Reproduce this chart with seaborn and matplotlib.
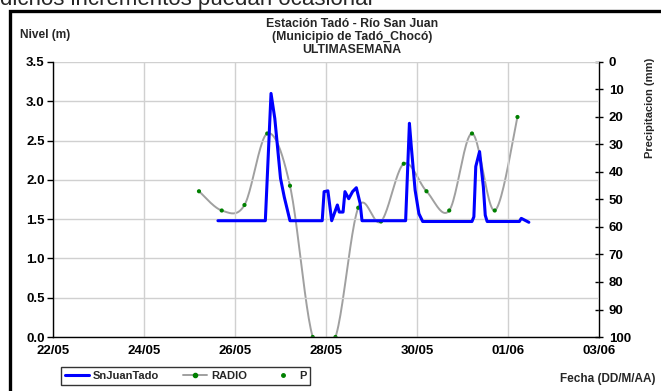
import numpy as np
import pandas as pd
import matplotlib
matplotlib.use("Agg")
import matplotlib.pyplot as plt
import matplotlib.dates as mdates
from matplotlib.lines import Line2D
from matplotlib.patches import Rectangle
import seaborn as sns

sns.set_style("white")
plt.rcParams['font.family'] = ['Liberation Sans', 'DejaVu Sans']
plt.rcParams['font.weight'] = 'bold'

# nivel del rio (m), serie SnJuanTado
nivel_fecha = ["2013-05-25 15:00", "2013-05-26 16:00", "2013-05-26 19:00", "2013-05-26 21:00",
               "2013-05-27 00:00", "2013-05-27 02:00", "2013-05-27 05:00", "2013-05-27 22:00",
               "2013-05-27 23:00", "2013-05-28 01:00", "2013-05-28 03:00", "2013-05-28 06:00",
               "2013-05-28 07:00", "2013-05-28 09:00", "2013-05-28 10:00", "2013-05-28 12:00",
               "2013-05-28 14:00", "2013-05-28 16:00", "2013-05-28 18:00", "2013-05-28 19:00",
               "2013-05-29 18:00", "2013-05-29 20:00", "2013-05-29 21:00", "2013-05-29 23:00",
               "2013-05-30 01:00", "2013-05-30 03:00", "2013-05-31 05:00", "2013-05-31 06:00",
               "2013-05-31 07:00", "2013-05-31 09:00", "2013-05-31 11:00", "2013-05-31 12:00",
               "2013-05-31 13:00", "2013-06-01 06:00", "2013-06-01 07:00", "2013-06-01 11:00"]
nivel_m = [1.48, 1.48, 3.10, 2.78, 2.02, 1.78, 1.48, 1.48,
           1.85, 1.86, 1.48, 1.68, 1.59, 1.59, 1.85, 1.76,
           1.85, 1.90, 1.70, 1.48, 1.48, 2.72, 2.42, 1.87,
           1.57, 1.47, 1.47, 1.53, 2.17, 2.36, 1.91, 1.55,
           1.47, 1.47, 1.51, 1.46]

# precipitacion (mm), serie RADIO / P
precip_fecha = ["2013-05-25 05:00", "2013-05-25 17:00", "2013-05-26 05:00", "2013-05-26 17:00",
                "2013-05-27 05:00", "2013-05-27 17:00", "2013-05-28 05:00", "2013-05-28 17:00",
                "2013-05-29 05:00", "2013-05-29 17:00", "2013-05-30 05:00", "2013-05-30 17:00",
                "2013-05-31 05:00", "2013-05-31 17:00", "2013-06-01 05:00"]
precip_mm = [47, 54, 52, 26, 45, 100, 100, 53, 58, 37, 47, 54, 26, 54, 20]

x_ticks = ["2013-05-22", "2013-05-24", "2013-05-26", "2013-05-28", "2013-05-30", "2013-06-01", "2013-06-03"]
nivel_ticks = [0.0, 0.5, 1.0, 1.5, 2.0, 2.5, 3.0, 3.5]
precip_ticks = [0, 10, 20, 30, 40, 50, 60, 70, 80, 90, 100]


def smooth_line(x, y, n=24):
    """Excel-like smoothed line (Catmull-Rom) through the given points"""
    x = np.asarray(x, float)
    y = np.asarray(y, float)
    px = np.concatenate(([x[0]], x, [x[-1]]))
    py = np.concatenate(([y[0]], y, [y[-1]]))
    t = np.linspace(0, 1, n)[:, None]
    xs, ys = [], []
    for i in range(1, len(px) - 2):
        for p, out in ((px, xs), (py, ys)):
            p0, p1, p2, p3 = p[i - 1], p[i], p[i + 1], p[i + 2]
            c = 0.5 * ((2 * p1) + (-p0 + p2) * t + (2 * p0 - 5 * p1 + 4 * p2 - p3) * t ** 2
                       + (-p0 + 3 * p1 - 3 * p2 + p3) * t ** 3)
            out.append(c.ravel())
    return np.concatenate(xs), np.concatenate(ys)


df_nivel = pd.DataFrame({"fecha": pd.to_datetime(nivel_fecha), "nivel": nivel_m})
df_precip = pd.DataFrame({"fecha": pd.to_datetime(precip_fecha), "precip": precip_mm})

fig = plt.figure(figsize=(6.61, 3.91), dpi=100)
ax = fig.add_axes([53 / 661, 1 - 337 / 391, 546 / 661, 275 / 391])
ax2 = ax.twinx()

# precipitation on the inverted right axis
xnum = mdates.date2num(df_precip["fecha"])
sx, sy = smooth_line(xnum, df_precip["precip"])
ax2.plot(mdates.num2date(sx), sy, color='#a0a0a0', lw=1.4, zorder=2)
sns.scatterplot(data=df_precip, x="fecha", y="precip", ax=ax2, color='#008000',
                s=9, edgecolor='none', zorder=3, legend=False)
ax2.set_ylim(100, 0)
ax2.set_yticks(precip_ticks)
ax2.set_ylabel("")

# level
sns.lineplot(data=df_nivel, x="fecha", y="nivel", ax=ax, color='#0000ff', lw=2.2,
             legend=False, zorder=4)
ax.set_zorder(ax2.get_zorder() + 1)
ax.patch.set_visible(False)

ax.set_ylim(0, 3.5)
ax.set_yticks(nivel_ticks)
ax.yaxis.set_major_formatter(matplotlib.ticker.FormatStrFormatter('%.1f'))
ax.set_xlim(pd.Timestamp(x_ticks[0]), pd.Timestamp(x_ticks[-1]))
ax.set_xticks(pd.to_datetime(x_ticks))
ax.xaxis.set_major_formatter(mdates.DateFormatter('%d/%m'))
ax.set_xlabel("")
ax.set_ylabel("")
ax.grid(True, color='#d0d0d0', lw=1.0)
ax.set_axisbelow(True)

for a in (ax, ax2):
    for s in a.spines.values():
        s.set_visible(False)
ax.spines['left'].set_visible(True)
ax.spines['bottom'].set_visible(True)
ax2.spines['right'].set_visible(True)
for s in ('left', 'bottom'):
    ax.spines[s].set_color('black')
    ax.spines[s].set_linewidth(1.0)
ax2.spines['right'].set_color('black')
ax2.spines['right'].set_linewidth(1.0)

ax.tick_params(axis='both', direction='out', length=4, width=1, color='black',
               labelsize=9.5, pad=2, labelcolor='black')
ax2.tick_params(axis='y', direction='inout', length=6, width=1, color='black',
                labelsize=9.5, pad=4, labelcolor='black')
for lab in ax.get_xticklabels() + ax.get_yticklabels() + ax2.get_yticklabels():
    lab.set_fontweight('bold')

# texts
fig.text(0.0, 1 - 5 / 391, "dichos incrementos puedan ocasionar", fontsize=16,
         fontweight='normal', ha='left', va='baseline')
fig.text(20 / 661, 1 - 35 / 391, "Nivel (m)", fontsize=8.6, ha='left', va='center')
fig.text(352 / 661, 1 - 37 / 391,
         "Estación Tadó - Río San Juan\n(Municipio de Tadó_Chocó)\nULTIMASEMANA",
         fontsize=8.8, ha='center', va='center', linespacing=1.1)
fig.text(650 / 661, 1 - 108 / 391, "Precipitacion (mm)", fontsize=8, rotation=90,
         ha='center', va='center')
fig.text(655 / 661, 1 - 379 / 391, "Fecha (DD/M/AA)", fontsize=8.5, ha='right', va='center')

# outer frame
fig.patches.append(Rectangle((10 / 661, -0.2), 1.5, 1.2 - 11 / 391, transform=fig.transFigure,
                             fill=False, edgecolor='black', lw=2.4, clip_on=False))

handles = [Line2D([], [], color='#0000ff', lw=2.2),
           Line2D([], [], color='#a0a0a0', lw=1.4, marker='o', ms=3,
                  markerfacecolor='#008000', markeredgecolor='#008000'),
           Line2D([], [], color='none', marker='o', ms=2.5,
                  markerfacecolor='#008000', markeredgecolor='#008000')]
leg = fig.legend(handles, ["SnJuanTado", "RADIO", "P"], ncol=3, loc='center',
                 bbox_to_anchor=(185.5 / 661, 1 - 376 / 391), fontsize=8,
                 frameon=True, fancybox=False, edgecolor='black', handlelength=2.2,
                 handletextpad=0.3, columnspacing=2.2, borderpad=0.35)
leg.get_frame().set_linewidth(1.0)

fig.savefig("out.png", dpi=100)
